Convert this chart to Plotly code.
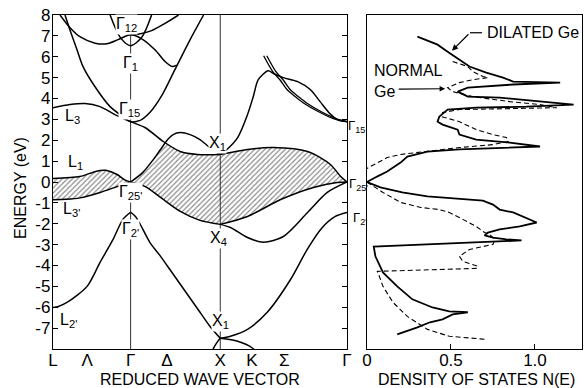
import numpy as np
import plotly.graph_objects as go

W, H = 584, 388
FONT = "Liberation Sans"

# ---------------- band-structure data (k along L-Γ-X-K-Γ, E in eV) ----------------
k_ticks = [0.0, 0.38, 0.866, 1.27, 1.866, 2.22, 2.58, 3.28]
k_tick_labels = ["L", "Λ", "Γ", "Δ", "X", "K", "Σ", "Γ"]
K_GAMMA, K_X = 0.866, 1.866

lam_low_k = [0.0, 0.06, 0.156, 0.38, 0.525, 0.67, 0.78, 0.866]
lam_low_E = [-6.01, -5.96, -5.77, -5.0, -3.85, -2.75, -1.79, -1.45]
delta_low_k = [0.866, 0.92, 0.97, 1.08, 1.20, 1.31, 1.42, 1.53, 1.64, 1.75, 1.866]
delta_low_E = [-1.45, -1.65, -2.0, -2.89, -3.56, -4.23, -4.9, -5.57, -6.24, -6.91, -7.49]
sigma_low_k = [1.866, 1.98, 2.17, 2.39, 2.65, 2.84, 3.0, 3.15, 3.28]
sigma_low_E = [-7.49, -7.39, -7.06, -6.24, -4.67, -3.2, -2.2, -1.65, -1.46]
xk_low_k = [1.866, 2.06, 2.22, 2.30]
xk_low_E = [-7.49, -7.63, -7.94, -8.3]
xlow_k = [1.74, 1.79, 1.83, 1.866]
xlow_E = [-8.6, -7.97, -7.68, -7.49]

lam_val_k = [0.0, 0.15, 0.30, 0.525, 0.715, 0.866]
lam_val_E = [-0.85, -0.83, -0.76, -0.50, -0.22, 0.0]
delta_val_k = [0.866, 1.03, 1.20, 1.42, 1.64, 1.866]
delta_val_E = [0.0, -0.22, -0.74, -1.41, -1.84, -2.03]
sig_val_up_k = [1.866, 2.17, 2.54, 2.905, 3.17, 3.28]
sig_val_up_E = [-2.03, -1.65, -0.84, -0.26, -0.02, 0.0]
sig_val_lo_k = [1.866, 1.98, 2.17, 2.35, 2.57, 2.84, 3.06, 3.28]
sig_val_lo_E = [-2.03, -2.18, -2.66, -2.89, -2.61, -1.46, -0.50, 0.0]

lam_cond_k = [0.0, 0.30, 0.45, 0.525, 0.59, 0.715, 0.80, 0.866]
lam_cond_E = [0.17, 0.26, 0.47, 0.55, 0.56, 0.36, 0.10, 0.0]
hump_k = [0.866, 1.0, 1.12, 1.20, 1.28, 1.34, 1.42, 1.53, 1.64, 1.72, 1.81, 1.866]
hump_E = [0.0, 0.45, 1.08, 1.56, 2.03, 2.27, 2.37, 2.27, 2.03, 1.75, 1.46, 1.32]
lamB_k = [0.0, 0.19, 0.357, 0.525, 0.69, 0.866]
lamB_E = [3.56, 3.71, 3.76, 3.61, 3.23, 2.89]
deltaB_k = [0.866, 1.03, 1.23, 1.42, 1.61, 1.866]
deltaB_E = [2.89, 2.60, 1.94, 1.46, 1.32, 1.32]
sig_cond_k = [1.866, 2.17, 2.46, 2.84, 3.095, 3.21, 3.28]
sig_cond_E = [1.32, 1.56, 1.65, 1.46, 0.84, 0.26, 0.0]

rise_k = [1.866, 1.94, 2.06, 2.17, 2.235, 2.29, 2.40, 2.46, 2.57, 2.73, 2.87, 2.98, 3.095, 3.18, 3.28]
rise_E = [1.32, 1.56, 2.13, 3.23, 4.1, 4.9, 5.33, 5.2, 5.0, 4.81, 4.43, 3.85, 3.25, 2.97, 2.89]
par1_k = [2.35, 2.45, 2.54, 2.61, 2.70, 2.79, 2.98, 3.12, 3.28]
par1_E = [6.05, 5.3, 4.85, 4.43, 4.1, 3.80, 3.33, 3.05, 2.89]
par2_k = [2.385, 2.485, 2.575, 2.645, 2.735, 2.825, 3.01, 3.15, 3.28]
par2_E = [6.05, 5.3, 4.85, 4.43, 4.1, 3.80, 3.33, 3.05, 2.89]

parab_k = [0.134, 0.20, 0.268, 0.335, 0.49, 0.637, 0.78, 0.866, 0.97, 1.08, 1.22, 1.36, 1.53, 1.68]
parab_E = [8.0, 7.15, 6.34, 5.53, 4.43, 3.61, 3.13, 2.89, 2.95, 3.33, 4.19, 5.38, 6.82, 8.0]
curveC_k = [0.078, 0.19, 0.30, 0.47, 0.60, 0.726, 0.866, 0.99, 1.14, 1.25, 1.33, 1.38]
curveC_E = [8.0, 7.39, 6.96, 6.65, 6.62, 6.82, 7.05, 6.86, 6.32, 5.77, 5.53, 5.6]
gamma1_k = [0.637, 0.75, 0.866, 0.99, 1.10]
gamma1_E = [8.0, 6.93, 6.53, 6.93, 8.0]
gamma12_k = [0.866, 0.95, 1.10, 1.25, 1.40]
gamma12_E = [7.05, 7.08, 7.25, 7.6, 8.0]

# ---------------- density of states data (N(E), E) ----------------
dil_N = [0.30, 0.42, 0.48, 0.55, 0.61, 0.71, 0.81, 0.87, 1.15, 0.87, 0.60, 0.54, 0.60, 0.79, 1.23,
         0.95, 0.65, 0.48, 0.43, 0.42, 0.45, 0.54, 0.55, 0.65, 0.85, 1.03, 0.87, 0.55, 0.36, 0.24,
         0.20, 0.12, 0.06, 0.0,
         0.08, 0.21, 0.36, 0.55, 0.69, 0.75, 0.79, 0.87, 0.93, 1.01, 0.91, 0.79, 0.72, 0.70, 0.75,
         0.83, 0.92, 0.04, 0.05, 0.095, 0.18, 0.27, 0.39, 0.49, 0.60, 0.51, 0.45, 0.375, 0.30, 0.18]
dil_E = [6.96, 6.58, 6.24, 5.86, 5.53, 5.24, 5.00, 4.81, 4.76, 4.67, 4.52, 4.33, 4.09, 4.04, 3.71,
         3.61, 3.56, 3.47, 3.13, 2.89, 2.75, 2.51, 2.27, 2.03, 1.89, 1.70, 1.65, 1.56, 1.46, 1.22,
         0.93, 0.50, 0.26, 0.0,
         -0.26, -0.50, -0.69, -0.79, -0.89, -1.08, -1.32, -1.46, -1.65, -1.94, -2.13, -2.27, -2.42,
         -2.56, -2.66, -2.75, -2.80, -3.09, -3.56, -4.33, -5.00, -5.62, -6.01, -6.20, -6.24, -6.34,
         -6.58, -6.72, -6.96, -7.30]
norm_up_N = [0.51, 0.60, 0.63, 0.69, 0.72, 0.63, 0.55, 0.48, 0.51, 0.63, 0.85, 1.03, 1.13, 0.91,
             0.55, 0.45, 0.445, 0.55, 0.65, 0.75, 0.83, 0.84, 0.75, 0.55, 0.36, 0.20, 0.12, 0.0]
norm_up_E = [5.77, 5.53, 5.29, 5.05, 5.00, 4.90, 4.76, 4.52, 4.33, 4.09, 3.85, 3.71, 3.56, 3.52,
             3.47, 3.33, 3.13, 2.89, 2.51, 2.27, 2.13, 1.94, 1.79, 1.65, 1.46, 1.32, 1.17, 0.65]
norm_lo_N = [0.0, 0.095, 0.20, 0.32, 0.43, 0.49, 0.57, 0.65, 0.70, 0.73, 0.76, 0.75, 0.61, 0.55,
             0.57, 0.66, 0.65, 0.06, 0.065, 0.095, 0.155, 0.24, 0.36, 0.49, 0.71]
norm_lo_E = [0.0, -0.50, -0.98, -1.22, -1.32, -1.46, -1.79, -2.13, -2.42, -2.51, -2.75, -2.99,
             -3.23, -3.56, -3.80, -4.04, -4.14, -4.28, -4.33, -5.00, -5.77, -6.44, -7.06, -7.39, -7.54]

# ---------------- figure ----------------
fig = go.Figure()
hatch = dict(shape="/", fgcolor="#111", bgcolor="rgba(0,0,0,0)", size=3.6, solidity=0.33)

def add_fill(xs, ys):
    fig.add_trace(go.Scatter(x=xs, y=ys, mode="lines", fill="toself", line=dict(width=0),
                             fillcolor="rgba(0,0,0,0)", fillpattern=hatch,
                             hoverinfo="skip", showlegend=False, xaxis="x", yaxis="y"))

# Λ overlap region
add_fill(lam_cond_k + lam_val_k[::-1], lam_cond_E + lam_val_E[::-1])
# Δ-Σ overlap region: lower conduction envelope vs. upper valence band
grid = np.linspace(K_GAMMA, K_X, 60)
env = np.minimum(np.interp(grid, hump_k, hump_E), np.interp(grid, deltaB_k, deltaB_E))
top_k = list(grid) + sig_cond_k[1:]
top_E = list(env) + sig_cond_E[1:]
bot_k = delta_val_k + sig_val_up_k[1:]
bot_E = delta_val_E + sig_val_up_E[1:]
add_fill(top_k + bot_k[::-1], top_E + bot_E[::-1])

def band(xs, ys, w=1.5):
    fig.add_trace(go.Scatter(x=xs, y=ys, mode="lines", line=dict(color="black", width=w, shape="spline", smoothing=0.8),
                             hoverinfo="skip", showlegend=False, xaxis="x", yaxis="y"))

band(lam_low_k, lam_low_E)
band(delta_low_k, delta_low_E)
band(sigma_low_k, sigma_low_E)
band(xk_low_k, xk_low_E)
band(xlow_k, xlow_E)
band(lam_val_k, lam_val_E)
band(delta_val_k, delta_val_E)
band(sig_val_up_k, sig_val_up_E)
band(sig_val_lo_k, sig_val_lo_E)
band(lam_cond_k, lam_cond_E)
band(hump_k, hump_E)
band(lamB_k + deltaB_k[1:], lamB_E + deltaB_E[1:])
band(sig_cond_k, sig_cond_E)
band(rise_k, rise_E)
band(par1_k, par1_E, 1.3)
band(par2_k, par2_E, 1.3)
band(parab_k, parab_E)
band(curveC_k, curveC_E)
band(gamma1_k, gamma1_E)
band(gamma12_k, gamma12_E)

# DOS curves
fig.add_trace(go.Scatter(x=dil_N, y=dil_E, mode="lines", line=dict(color="black", width=1.8),
                         hoverinfo="skip", showlegend=False, xaxis="x2", yaxis="y2"))
fig.add_trace(go.Scatter(x=norm_up_N + [None] + norm_lo_N, y=norm_up_E + [None] + norm_lo_E, mode="lines",
                         line=dict(color="black", width=1.1, dash="5px,3px"),
                         hoverinfo="skip", showlegend=False, xaxis="x2", yaxis="y2"))

# symmetry-point vertical lines
shapes = []
for kv in (K_GAMMA, K_X):
    shapes.append(dict(type="line", xref="x", yref="y", x0=kv, x1=kv, y0=-8, y1=8,
                       line=dict(color="#333", width=1), layer="below"))
# leader for DILATED Ge
shapes.append(dict(type="line", xref="x2", yref="y2", x0=0.685, x1=0.613, y0=7.15, y1=7.15,
                   line=dict(color="black", width=1.2)))

ann = []
def lab(text, x, y, size=16, bg=True, xref="x", yref="y"):
    ann.append(dict(text=text, x=x, y=y, xref=xref, yref=yref, showarrow=False,
                    font=dict(family=FONT, size=size, color="black"),
                    bgcolor="white" if bg else None, borderpad=0, xanchor="center", yanchor="middle"))

lab("Γ<sub>12</sub>", 0.82, 7.54)
lab("Γ<sub>1</sub>", 0.86, 5.67)
lab("Γ<sub>15</sub>", 0.85, 3.45)
lab("L<sub>3</sub>", 0.22, 3.13, bg=False)
lab("L<sub>1</sub>", 0.25, 0.93, bg=False)
lab("Γ<sub>25'</sub>", 0.87, -0.50)
lab("L<sub>3'</sub>", 0.21, -1.32, bg=False)
lab("Γ<sub>2'</sub>", 0.87, -2.27)
lab("L<sub>2'</sub>", 0.17, -6.63, bg=False)
lab("X<sub>1</sub>", 1.84, 1.84)
lab("X<sub>4</sub>", 1.85, -2.70)
lab("X<sub>1</sub>", 1.87, -6.67)
lab("Γ<sub>15</sub>", 357 / W, 2.65, size=13, bg=False, xref="paper")
lab("Γ<sub>25'</sub>", 358 / W, -0.12, size=13, bg=False, xref="paper")
lab("Γ<sub>2'</sub>", 360 / W, -1.75, size=13, bg=False, xref="paper")

# DOS annotations
ann.append(dict(text="DILATED Ge", x=0.70, y=7.15, xref="x2", yref="y2", showarrow=False,
                xanchor="left", yanchor="middle", font=dict(family=FONT, size=16, color="black")))
ann.append(dict(text="", x=0.506, y=6.29, ax=0.613, ay=7.15, xref="x2", yref="y2", axref="x2", ayref="y2",
                showarrow=True, arrowhead=2, arrowsize=1, arrowwidth=1.2, arrowcolor="black"))
ann.append(dict(text="NORMAL<br>Ge", x=0.03, y=4.85, xref="x2", yref="y2", showarrow=False, align="left",
                xanchor="left", yanchor="middle", font=dict(family=FONT, size=16, color="black")))
ann.append(dict(text="", x=0.465, y=4.47, ax=0.18, ay=4.45, xref="x2", yref="y2", axref="x2", ayref="y2",
                showarrow=True, arrowhead=2, arrowsize=1, arrowwidth=1.1, arrowcolor="black"))

# axis titles
ann.append(dict(text="ENERGY (eV)", x=20 / W, y=1 - 188 / H, xref="paper", yref="paper", showarrow=False,
                textangle=-90, xanchor="center", yanchor="middle", font=dict(family=FONT, size=16, color="black")))
ann.append(dict(text="REDUCED WAVE VECTOR", x=200 / W, y=1 - 379 / H, xref="paper", yref="paper",
                xanchor="center", yanchor="middle",
                showarrow=False, font=dict(family=FONT, size=16, color="black")))
ann.append(dict(text="DENSITY OF STATES N(E)", x=476 / W, y=1 - 379 / H, xref="paper", yref="paper",
                xanchor="center", yanchor="middle",
                showarrow=False, font=dict(family=FONT, size=16, color="black")))

e_vals = list(range(-7, 9))
e_text = [str(v) for v in range(-7, 9)]

ax_common = dict(showgrid=False, zeroline=False, showline=True, linecolor="black", linewidth=1.3,
                 automargin=False)
fig.update_layout(
    width=W, height=H, margin=dict(l=0, r=0, t=0, b=0, autoexpand=False),
    paper_bgcolor="white", plot_bgcolor="white",
    font=dict(family=FONT, size=17, color="black"),
    shapes=shapes, annotations=ann,
    xaxis=dict(domain=[53 / W, 347 / W], range=[0, 3.28], tickvals=k_ticks, ticktext=k_tick_labels,
               ticks="", mirror=True, tickfont=dict(size=17), ticklabelstandoff=-5, **ax_common),
    yaxis=dict(domain=[1 - 349 / H, 1 - 15 / H], range=[-8, 8], tickvals=e_vals, ticktext=e_text,
               ticks="inside", ticklen=5, tickcolor="black", mirror="ticks", tickfont=dict(size=17),
               ticklabelstandoff=-2, **ax_common),
    xaxis2=dict(domain=[367 / W, 582 / W], range=[0, 1.28], tickvals=[0, 0.5, 1.0], ticktext=["0", "0.5", "1.0"],
                ticks="inside", ticklen=5, tickcolor="black", mirror=True, anchor="y2", tickfont=dict(size=17),
                ticklabelstandoff=-5, **ax_common),
    yaxis2=dict(domain=[1 - 349 / H, 1 - 15 / H], range=[-8, 8], showticklabels=False, ticks="",
                mirror=True, anchor="x2", **ax_common),
)

fig.write_html("out.html", config={"displayModeBar": False},
               post_script="document.body.style.margin='0px';")
